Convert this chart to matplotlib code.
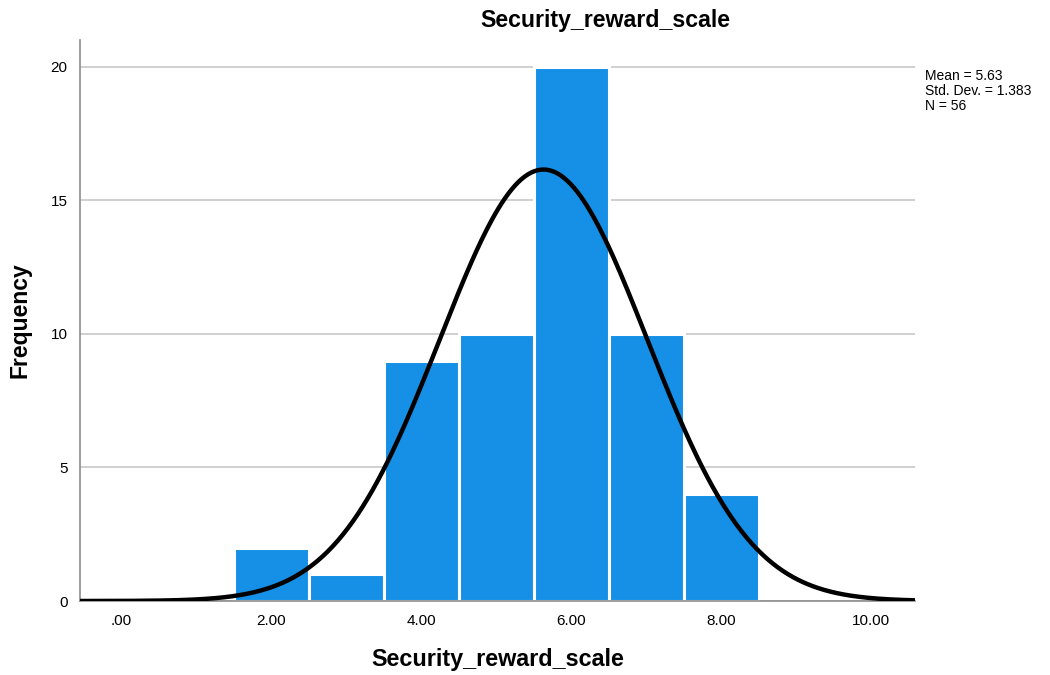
import numpy as np
import matplotlib.pyplot as plt

plt.rcParams['font.family'] = ['Liberation Sans', 'DejaVu Sans']

# histogram data (bin centres, counts)
bin_centers = [2, 3, 4, 5, 6, 7, 8]
counts = [2, 1, 9, 10, 20, 10, 4]
mean = 5.63
std_dev = 1.383
n = 56
xticks = [0, 2, 4, 6, 8, 10]
xtick_labels = [".00", "2.00", "4.00", "6.00", "8.00", "10.00"]
yticks = [0, 5, 10, 15, 20]

fig = plt.figure(figsize=(10.5, 6.75), dpi=100)
ax = fig.add_axes([0.0762, 0.1096, 0.795, 0.831])

ax.bar(bin_centers, counts, width=1.0, color="#1590e6", edgecolor="white",
       linewidth=2.2, zorder=2)

x_lo, x_hi = -0.55, 10.58
xs = np.linspace(x_lo, x_hi, 500)
curve = n * 1.0 / (std_dev * np.sqrt(2 * np.pi)) * np.exp(-0.5 * ((xs - mean) / std_dev) ** 2)
ax.plot(xs, curve, color="black", linewidth=3.2, zorder=3, solid_capstyle="round")

ax.set_xlim(x_lo, x_hi)
ax.set_ylim(0, 21)
ax.set_xticks(xticks)
ax.set_xticklabels(xtick_labels, fontsize=11)
ax.set_yticks(yticks)
ax.set_yticklabels([str(v) for v in yticks], fontsize=11)
ax.tick_params(length=0, pad=9)
ax.yaxis.grid(True, color="#c8c8c8", linewidth=1.2, zorder=0)
ax.set_axisbelow(True)
for side in ["top", "right"]:
    ax.spines[side].set_visible(False)
for side in ["left", "bottom"]:
    ax.spines[side].set_color("#8c8c8c")
    ax.spines[side].set_linewidth(1.2)

# SPSS centres the title over the whole chart area, legend included
fig.text(0.577, 0.970, "Security_reward_scale", fontsize=16.7, fontweight="bold",
         ha="center", va="center")
ax.set_xlabel("Security_reward_scale", fontsize=16.8, fontweight="bold", labelpad=15)
ax.set_ylabel("Frequency", fontsize=16.5, fontweight="bold", labelpad=14)

fig.text(0.881, 0.898, f"Mean = {mean:.2f}\nStd. Dev. = {std_dev:.3f}\nN = {n}",
         fontsize=10, va="top", ha="left", linespacing=1.1)

fig.savefig("out.png", dpi=100)
